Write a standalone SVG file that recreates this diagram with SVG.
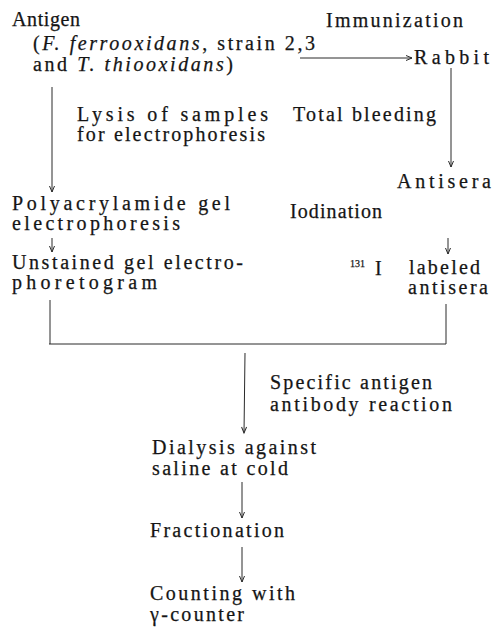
<svg xmlns="http://www.w3.org/2000/svg" width="497" height="628" viewBox="0 0 497 628">
<defs>
<style>
.t{font-family:'Liberation Serif','DejaVu Serif',serif;font-size:20px;fill:#151515;stroke:#151515;stroke-width:0.25}
.it{font-style:italic}
.sup{font-size:10px}
.ln{stroke:#2a2a2a;stroke-width:1;fill:none}
</style>
<marker id="ah" markerUnits="userSpaceOnUse" markerWidth="10" markerHeight="10" refX="0" refY="0" viewBox="-8 -5 10 10" orient="auto">
<path d="M-6,-2.5 L0,0 L-6,2.5" fill="none" stroke="#2a2a2a" stroke-width="1"/>
</marker>
</defs>
<rect width="497" height="628" fill="#ffffff"/>
<g id="connectors">
<line class="ln" x1="52" y1="87" x2="52" y2="192" marker-end="url(#ah)"/>
<line class="ln" x1="300" y1="58" x2="412" y2="58" marker-end="url(#ah)"/>
<line class="ln" x1="451" y1="68" x2="451" y2="167" marker-end="url(#ah)"/>
<line class="ln" x1="52" y1="238" x2="52" y2="252" marker-end="url(#ah)"/>
<line class="ln" x1="448" y1="238" x2="448" y2="254" marker-end="url(#ah)"/>
<line class="ln" x1="50" y1="300" x2="50" y2="344"/>
<line class="ln" x1="446" y1="304" x2="446" y2="344"/>
<line class="ln" x1="49" y1="344" x2="446" y2="344"/>
<line class="ln" x1="245" y1="353" x2="244" y2="433" marker-end="url(#ah)"/>
<line class="ln" x1="242" y1="482" x2="242" y2="518" marker-end="url(#ah)"/>
<line class="ln" x1="242" y1="547" x2="242" y2="582" marker-end="url(#ah)"/>
</g>
<g id="antigen" class="t">
<text x="12" y="26" textLength="68" lengthAdjust="spacing">Antigen</text>
<text x="33" y="50" textLength="282" lengthAdjust="spacing">(<tspan class="it">F. ferrooxidans</tspan>, strain 2,3</text>
<text x="33" y="71" textLength="200" lengthAdjust="spacing">and <tspan class="it">T. thiooxidans</tspan>)</text>
</g>
<g id="immunization" class="t">
<text x="326" y="27" textLength="137" lengthAdjust="spacing">Immunization</text>
</g>
<g id="rabbit" class="t">
<text x="414" y="64" textLength="75" lengthAdjust="spacing">Rabbit</text>
</g>
<g id="lysis" class="t">
<text x="77" y="121" textLength="191" lengthAdjust="spacing">Lysis of samples</text>
<text x="77" y="141" textLength="188" lengthAdjust="spacing">for electrophoresis</text>
</g>
<g id="total-bleeding" class="t">
<text x="293" y="121" textLength="143" lengthAdjust="spacing">Total bleeding</text>
</g>
<g id="antisera" class="t">
<text x="397" y="188" textLength="94" lengthAdjust="spacing">Antisera</text>
</g>
<g id="page" class="t">
<text x="12" y="210" textLength="218" lengthAdjust="spacing">Polyacrylamide gel</text>
<text x="12" y="230" textLength="168" lengthAdjust="spacing">electrophoresis</text>
</g>
<g id="iodination" class="t">
<text x="290" y="218" textLength="92" lengthAdjust="spacing">Iodination</text>
</g>
<g id="unstained" class="t">
<text x="12" y="269" textLength="231" lengthAdjust="spacing">Unstained gel electro-</text>
<text x="12" y="289" textLength="145" lengthAdjust="spacing">phoretogram</text>
</g>
<g id="labeled-antisera" class="t">
<text x="350" y="267" class="sup">131</text>
<text x="375" y="275">I</text>
<text x="409" y="274" textLength="71" lengthAdjust="spacing">labeled</text>
<text x="408" y="294" textLength="80" lengthAdjust="spacing">antisera</text>
</g>
<g id="reaction" class="t">
<text x="270" y="389" textLength="162" lengthAdjust="spacing">Specific antigen</text>
<text x="270" y="411" textLength="182" lengthAdjust="spacing">antibody reaction</text>
</g>
<g id="dialysis" class="t">
<text x="152" y="454" textLength="164" lengthAdjust="spacing">Dialysis against</text>
<text x="152" y="475" textLength="136" lengthAdjust="spacing">saline at cold</text>
</g>
<g id="fractionation" class="t">
<text x="150" y="537" textLength="134" lengthAdjust="spacing">Fractionation</text>
</g>
<g id="counting" class="t">
<text x="150" y="600" textLength="145" lengthAdjust="spacing">Counting with</text>
<text x="150" y="621" textLength="94" lengthAdjust="spacing">γ-counter</text>
</g>
</svg>
